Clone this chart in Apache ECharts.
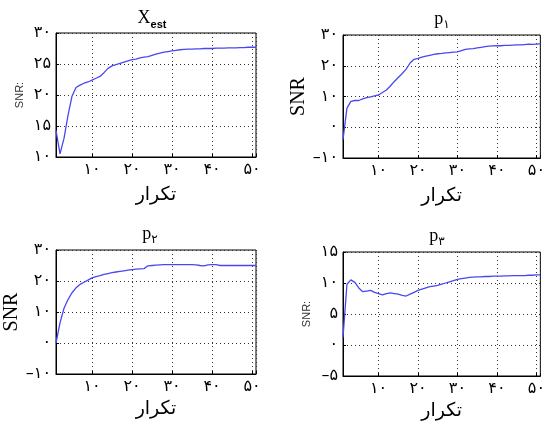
<!DOCTYPE html>
<html>
<head>
<meta charset="utf-8">
<script src="https://cdn.jsdelivr.net/npm/echarts@6/dist/echarts.min.js"></script>
<style>
  html, body { margin: 0; padding: 0; background: #fff; }
  #chart { width: 548px; height: 427px; }
</style>
</head>
<body>
<div id="chart"></div>
<script>
// iteration numbers (x axis)
const iterations = [1, 2, 3, 4, 5, 6, 7, 8, 9, 10, 11, 12, 13, 14, 15, 16, 17, 18, 19, 20,
  21, 22, 23, 24, 25, 26, 27, 28, 29, 30, 31, 32, 33, 34, 35, 36, 37, 38, 39, 40,
  41, 42, 43, 44, 45, 46, 47, 48, 49, 50, 51];

// SNR values
const snrXest = [14.3, 10.5, 13.0, 16.7, 19.8, 21.2, 21.6, 21.9, 22.1, 22.4, 22.7, 23.0, 23.6, 24.3, 24.7, 24.9, 25.1, 25.3, 25.5, 25.7,
  25.8, 26.0, 26.1, 26.2, 26.4, 26.6, 26.75, 26.9, 27.0, 27.1, 27.2, 27.3, 27.35, 27.4, 27.4, 27.45, 27.45, 27.5, 27.5, 27.5,
  27.55, 27.55, 27.55, 27.6, 27.6, 27.6, 27.65, 27.65, 27.7, 27.7, 27.7];
const snrP1 = [-4.0, 6.2, 8.4, 8.7, 8.7, 9.2, 9.6, 9.9, 10.2, 10.5, 11.3, 12.1, 13.4, 14.9, 16.2, 17.5, 18.9, 20.9, 22.1, 22.4,
  22.8, 23.1, 23.4, 23.7, 23.9, 24.0, 24.2, 24.3, 24.4, 24.5, 24.9, 25.3, 25.5, 25.6, 25.8, 26.0, 26.2, 26.4, 26.45, 26.5,
  26.5, 26.6, 26.6, 26.7, 26.8, 26.8, 26.9, 27.0, 26.95, 27.05, 27.1];
const snrP2 = [0.0, 6.5, 11.2, 14.0, 16.2, 17.8, 18.9, 19.6, 20.3, 21.0, 21.4, 21.7, 22.1, 22.4, 22.7, 22.9, 23.1, 23.3, 23.5, 23.7,
  23.8, 23.9, 24.0, 24.9, 25.0, 25.1, 25.2, 25.3, 25.3, 25.3, 25.3, 25.3, 25.3, 25.3, 25.3, 25.2, 25.0, 24.9, 25.2, 25.3,
  25.3, 25.0, 25.0, 25.0, 25.0, 25.0, 25.0, 25.0, 25.0, 25.0, 25.0];
const snrP3 = [1.2, 9.8, 10.5, 10.1, 9.2, 8.6, 8.7, 8.8, 8.5, 8.3, 8.1, 8.3, 8.4, 8.3, 8.2, 8.0, 7.9, 8.2, 8.5, 8.8,
  9.0, 9.2, 9.4, 9.5, 9.6, 9.8, 10.0, 10.2, 10.4, 10.6, 10.7, 10.8, 10.9, 10.95, 11.0, 11.0, 11.05, 11.05, 11.1, 11.1,
  11.1, 11.15, 11.15, 11.2, 11.2, 11.2, 11.2, 11.25, 11.25, 11.3, 11.3];

// y ranges of the four panels: [min, max, interval]
const yRanges = [[10, 30, 5], [-10, 30, 10], [-10, 30, 10], [-5, 15, 5]];
const yNames = ['SNR:', 'SNR', 'SNR', 'SNR:'];
const xName = 'تکرار';

const faDigits = '۰۱۲۳۴۵۶۷۸۹';
function fa(v) {
  const s = String(Math.abs(v)).replace(/\d/g, d => faDigits[d]);
  return v < 0 ? '–' + s : s;
}

const chart = echarts.init(document.getElementById('chart'));

const grids = [
  { left: 56, top: 33, width: 200, height: 124 },
  { left: 343, top: 35, width: 200, height: 123 },
  { left: 56, top: 250, width: 200, height: 124 },
  { left: 343, top: 252, width: 200, height: 124 }
];
const series = [snrXest, snrP1, snrP2, snrP3];

const labelFont = { fontFamily: 'DejaVu Sans', fontSize: 16, color: '#000' };
const dotted = { color: '#333', type: [1, 3], width: 1 };

const xAxes = grids.map((g, i) => ({
  type: 'value', gridIndex: i, min: 1, max: 51,
  name: xName, nameLocation: 'middle', nameGap: i < 2 ? 29 : 26,
  nameTextStyle: { fontFamily: 'DejaVu Sans', fontSize: 19, color: '#000' },
  axisLine: { show: true, onZero: false, lineStyle: { color: '#000' } },
  axisTick: { show: true, inside: true, length: 3, lineStyle: { color: '#000' } },
  axisLabel: Object.assign({ margin: 5, formatter: v => (v % 10 === 0 ? fa(v) : '') }, labelFont),
  splitLine: { show: true, lineStyle: dotted }
}));

const yAxes = grids.map((g, i) => ({
  type: 'value', gridIndex: i, min: yRanges[i][0], max: yRanges[i][1], interval: yRanges[i][2],
  name: yNames[i], nameLocation: 'middle', nameRotate: 90,
  nameGap: yNames[i] === 'SNR' ? 32 : 31,
  nameTextStyle: yNames[i] === 'SNR'
    ? { fontFamily: 'Liberation Serif', fontSize: 20, color: '#000' }
    : { fontFamily: 'Liberation Sans', fontSize: 11, color: '#333' },
  axisLine: { show: true, onZero: false, lineStyle: { color: '#000' } },
  axisTick: { show: true, inside: true, length: 3, lineStyle: { color: '#000' } },
  axisLabel: Object.assign({ margin: 5, formatter: v => fa(v) }, labelFont),
  splitLine: { show: true, lineStyle: dotted }
}));

// panel titles with subscripts
const titles = [
  { x: 152, y: 18, main: 'X', sub: 'est', subFont: 'bold 11px "Liberation Sans"' },
  { x: 442, y: 19, main: 'p', sub: '۱', subFont: '12px "DejaVu Sans"' },
  { x: 150, y: 234, main: 'p', sub: '۲', subFont: '12px "DejaVu Sans"' },
  { x: 437, y: 236, main: 'p', sub: '۳', subFont: '12px "DejaVu Sans"' }
];

chart.setOption({
  animation: false,
  backgroundColor: '#fff',
  grid: grids.map(g => Object.assign({ show: true, borderColor: '#000', borderWidth: 1, backgroundColor: '#fff' }, g)),
  xAxis: xAxes,
  yAxis: yAxes,
  series: series.map((d, i) => ({
    type: 'line', xAxisIndex: i, yAxisIndex: i,
    data: iterations.map((x, k) => [x, d[k]]),
    showSymbol: false,
    lineStyle: { color: '#4848f0', width: 1.3 }
  })),
  graphic: titles.map(t => ({
    type: 'text', x: t.x, y: t.y,
    style: {
      text: '{m|' + t.main + '}{s|' + t.sub + '}',
      align: 'center', verticalAlign: 'middle',
      rich: {
        m: { fontFamily: 'Liberation Serif', fontSize: 18, lineHeight: 24, verticalAlign: 'middle', fill: '#000' },
        s: { font: t.subFont, lineHeight: 12, verticalAlign: 'bottom', fill: '#000' }
      }
    }
  }))
});
</script>
</body>
</html>
